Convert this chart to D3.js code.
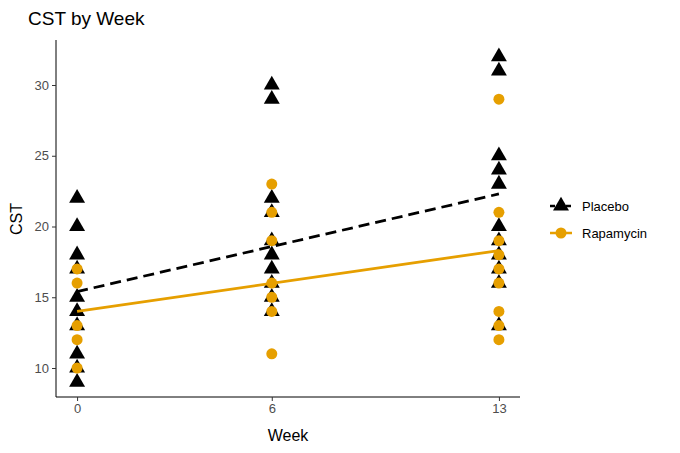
<!DOCTYPE html>
<html><head><meta charset="utf-8">
<script src="https://cdn.jsdelivr.net/npm/d3@7"></script>
<style>body{margin:0;background:#fff;font-family:"Liberation Sans",Arial,sans-serif}</style>
</head><body><svg id="c" width="680" height="453"></svg>
<script>
'use strict';
// ---- Data -------------------------------------------------------------------
const weeks = [0, 6, 13];
const placeboCST = [
  [22, 20, 18, 17, 15, 14, 13, 11, 10, 9],
  [30, 29, 22, 21, 19, 18, 17, 16, 15, 14],
  [32, 31, 25, 24, 23, 20, 19, 18, 17, 16, 13]
];
const rapaCST = [
  [17, 16, 13, 12, 10],
  [23, 21, 19, 16, 15, 14, 11],
  [29, 21, 19, 18, 17, 16, 14, 13, 12]
];
const placeboFit = [15.4, 22.3];
const rapaFit = [14.0, 18.3];
const yTicks = [10, 15, 20, 25, 30];
const ORANGE = '#E69F00';

// ---- Scales -----------------------------------------------------------------
const svg = d3.select('#c');
const x = d3.scaleLinear().domain([-0.65, 13.65]).range([56, 520]);
const y = d3.scaleLinear().domain([10, 30]).range([368, 85]);

const g = svg.append('g');
const xAxis = g.append('g').attr('transform', 'translate(0,397)')
  .call(d3.axisBottom(x).tickValues(weeks).tickSize(4).tickSizeOuter(0));
const yAxis = g.append('g').attr('transform', 'translate(56,0)')
  .call(d3.axisLeft(y).tickValues(yTicks).tickSize(4).tickSizeOuter(0));
[xAxis, yAxis].forEach(a => {
  a.select('.domain').attr('d', a === xAxis ? 'M56,0H520' : 'M0,40V397').attr('stroke', '#000');
  a.selectAll('text').attr('font-size', 13).attr('fill', '#4d4d4d').attr('font-family', 'Liberation Sans, Arial');
  a.selectAll('line').attr('stroke', '#333');
});

const tri = d3.symbol().type(d3.symbolTriangle).size(110);
function points(data, kind) {
  data.forEach((vals, i) => vals.forEach(v => {
    if (kind === 'tri') {
      g.append('path').attr('d', tri).attr('transform', `translate(${x(weeks[i])},${y(v)})`).attr('fill', '#000');
    } else {
      g.append('circle').attr('cx', x(weeks[i])).attr('cy', y(v)).attr('r', 5.5).attr('fill', ORANGE);
    }
  }));
}
points(placeboCST, 'tri');
points(rapaCST, 'dot');

g.append('line').attr('x1', x(0)).attr('x2', x(13)).attr('y1', y(placeboFit[0])).attr('y2', y(placeboFit[1]))
  .attr('stroke', '#000').attr('stroke-width', 2.8).attr('stroke-dasharray', '11,6');
g.append('line').attr('x1', x(0)).attr('x2', x(13)).attr('y1', y(rapaFit[0])).attr('y2', y(rapaFit[1]))
  .attr('stroke', ORANGE).attr('stroke-width', 2.8);

// ---- Text -------------------------------------------------------------------
svg.append('text').attr('x', 28).attr('y', 25).attr('font-size', 19).text('CST by Week');
svg.append('text').attr('x', 288).attr('y', 441).attr('text-anchor', 'middle').attr('font-size', 16).text('Week');
svg.append('text').attr('transform', 'translate(22,219) rotate(-90)').attr('text-anchor', 'middle').attr('font-size', 16).text('CST');

// ---- Legend -----------------------------------------------------------------
const legend = [
  { name: 'Placebo', y: 206, color: '#000', dash: '5,3' },
  { name: 'Rapamycin', y: 233, color: ORANGE, dash: null }
];
legend.forEach((d, i) => {
  const lg = svg.append('g');
  lg.append('line').attr('x1', 550).attr('x2', 572).attr('y1', d.y).attr('y2', d.y)
    .attr('stroke', d.color).attr('stroke-width', 2.5).attr('stroke-dasharray', d.dash);
  if (i === 0) lg.append('path').attr('d', tri).attr('transform', `translate(561,${d.y})`).attr('fill', '#000');
  else lg.append('circle').attr('cx', 561).attr('cy', d.y).attr('r', 5.5).attr('fill', ORANGE);
  lg.append('text').attr('x', 582).attr('y', d.y + 4.5).attr('font-size', 13).text(d.name);
});
</script></body></html>
